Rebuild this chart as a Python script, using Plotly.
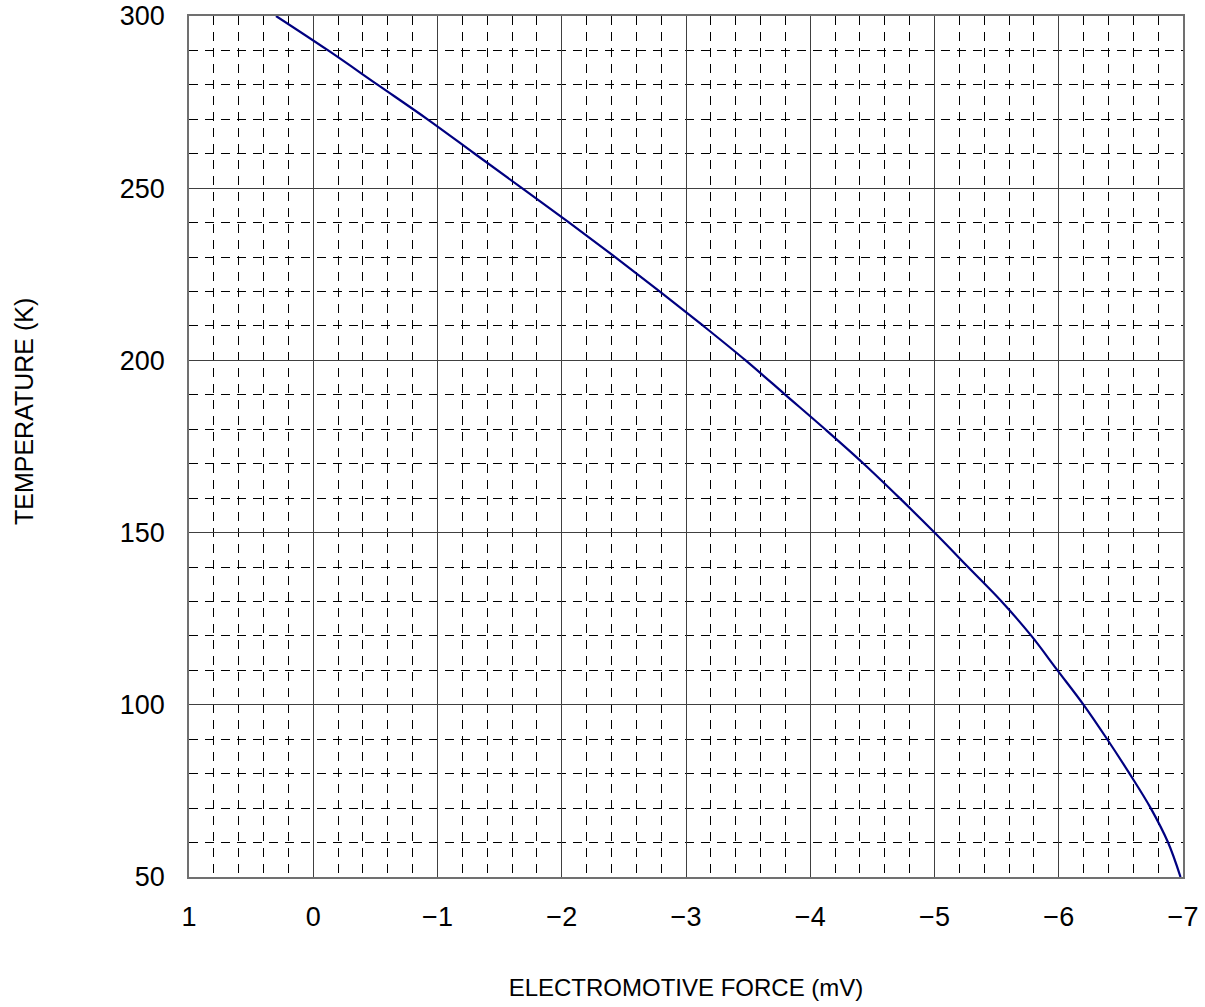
import plotly.graph_objects as go

# Data
temperature_k = [300, 290, 280, 270, 260, 250, 240, 230, 220, 210, 200, 190, 180,
                 170, 160, 150, 140, 130, 120, 110, 100, 90, 80, 70, 60, 50]
emf_mv = [0.30, -0.12, -0.52, -0.92, -1.30, -1.68, -2.06, -2.43, -2.79, -3.14,
          -3.48, -3.80, -4.12, -4.43, -4.72, -5.00, -5.27, -5.54, -5.78, -5.99,
          -6.20, -6.39, -6.57, -6.74, -6.88, -6.98]

x_ticks = [1, 0, -1, -2, -3, -4, -5, -6, -7]
y_ticks = [50, 100, 150, 200, 250, 300]

L, R, T, B = 189, 1183, 16, 877
W, H = 1205, 1007

fig = go.Figure()
fig.add_trace(go.Scatter(
    x=emf_mv, y=temperature_k, mode="lines",
    line=dict(color="#000080", width=2.2, shape="spline"),
    showlegend=False,
))

font_family = "Liberation Sans, Arial, sans-serif"
tick_font = dict(family=font_family, size=27, color="#000000")

fig.update_layout(
    width=W, height=H,
    margin=dict(l=L, r=W - R, t=T, b=H - B),
    paper_bgcolor="white", plot_bgcolor="white",
    font=dict(family=font_family, color="#000000"),
    xaxis=dict(
        range=[1, -7], tickvals=x_ticks, ticks="", ticklabelstandoff=15,
        tickfont=tick_font, automargin=False,
        showgrid=True, gridcolor="#404040", gridwidth=1,
        minor=dict(dtick=0.2, tick0=0, showgrid=True, gridcolor="#000000",
                   gridwidth=1, griddash="9px,7px"),
        showline=True, linecolor="#707070", linewidth=1.5, mirror=True,
        zeroline=False,
        title=dict(text="ELECTROMOTIVE FORCE (mV)", font=dict(size=24), standoff=48),
    ),
    yaxis=dict(
        range=[50, 300], tickvals=y_ticks, ticks="", ticklabelstandoff=17,
        tickfont=tick_font, automargin=False,
        showgrid=True, gridcolor="#404040", gridwidth=1,
        minor=dict(dtick=10, tick0=0, showgrid=True, gridcolor="#000000",
                   gridwidth=1, griddash="9px,7px"),
        showline=True, linecolor="#707070", linewidth=1.5, mirror=True,
        zeroline=False,
    ),
    annotations=[dict(
        text="TEMPERATURE (K)", textangle=-90, showarrow=False,
        xref="paper", yref="paper",
        x=(24 - L) / (R - L), y=(B - 412) / (B - T),
        xanchor="center", yanchor="middle",
        font=dict(family=font_family, size=25, color="#000000"),
    )],
)

fig.write_html("out.html", config={"displayModeBar": False},
               post_script="document.body.style.margin='0';")
